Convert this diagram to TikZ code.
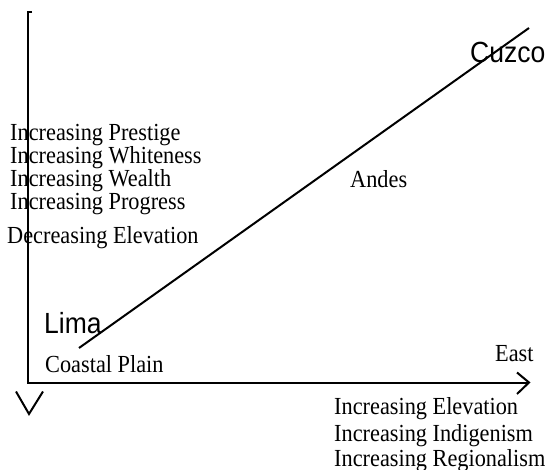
\documentclass[tikz,border=0pt]{standalone}
\usepackage{fontspec}
\usepackage{graphicx}
\setmainfont{Liberation Serif}
\newfontfamily\labsans{Liberation Sans}
\newcommand{\talltxt}[1]{\scalebox{1}[1.1]{#1}}
\begin{document}
\begin{tikzpicture}[x=1pt,y=-1pt,
  axis/.style={line width=2pt},
  lab/.style={anchor=base west, inner sep=0pt, font=\fontsize{22.3}{22.7}\selectfont},
  city/.style={anchor=base west, inner sep=0pt, font=\labsans\fontsize{26.5}{30}\selectfont}]
\useasboundingbox (0,0) rectangle (551,470);
% axes
\coordinate (ytop) at (28,12);
\coordinate (ytick) at (32,12);
\coordinate (orig) at (28,382.5);
\coordinate (xend) at (529,382.5);
\draw[axis] (ytick) -- (ytop) -- (orig) -- (xend);
\coordinate (xa1) at (517,372.5);
\coordinate (xa2) at (517,394);
\draw[axis] (xa1) -- (xend) -- (xa2);
\coordinate (ya1) at (16,391.5);
\coordinate (ytip) at (29,414);
\coordinate (ya2) at (43,391.5);
\draw[axis] (ya1) -- (ytip) -- (ya2);
% diagonal
\coordinate (low) at (79,348);
\coordinate (high) at (529,28);
\draw[axis] (low) -- (high);
% labels
\node[lab] (p1) at (10,141) {\talltxt{Increasing Prestige}};
\node[lab] (p2) at (10,164) {\talltxt{Increasing Whiteness}};
\node[lab] (p3) at (10,187) {\talltxt{Increasing Wealth}};
\node[lab] (p4) at (10,209.5) {\talltxt{Increasing Progress}};
\node[lab] (p5) at (7,243.5) {\talltxt{Decreasing Elevation}};
\node[lab] (andes) at (350,188) {\talltxt{Andes}};
\node[lab] (coast) at (45,372) {\talltxt{Coastal Plain}};
\node[lab] (east) at (495,361) {\talltxt{East}};
\node[lab] (e1) at (334,414) {\talltxt{Increasing Elevation}};
\node[lab] (e2) at (334,441) {\talltxt{Increasing Indigenism}};
\node[lab] (e3) at (334,466.5) {\talltxt{Increasing Regionalism}};
\node[city] (lima) at (44,333) {\talltxt{Lima}};
\node[city] (cuzco) at (470,63) {\talltxt{Cuzco}};
\end{tikzpicture}
\end{document}
